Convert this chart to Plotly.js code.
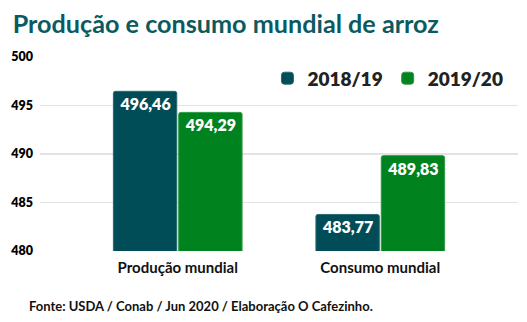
<!DOCTYPE html>
<html><head><meta charset="utf-8">
<script src="https://cdn.plot.ly/plotly-3.0.1.min.js"></script>
<style>body{margin:0;padding:0;background:#fff}#c{width:527px;height:322px}</style>
</head><body><div id="c"></div>
<script>
var categories = ['Produção mundial', 'Consumo mundial'];
var series2018 = [496.46, 483.77];
var series2019 = [494.29, 489.83];
var seriesNames = ['2018/19', '2019/20'];
var yTicks = [480, 485, 490, 495, 500];

var font = 'Lato, "Noto Sans", sans-serif';
var traces = [
  {type:'bar', x:categories, y:series2018, name:seriesNames[0],
   marker:{color:'#004d57', line:{color:'#2a6a72', width:1}, cornerradius:2},
   texttemplate:'%{y:.2f}', textposition:'inside', insidetextanchor:'end',
   textfont:{family:font, size:16, color:'#ffffff', weight:800}, hoverinfo:'none'},
  {type:'bar', x:categories, y:series2019, name:seriesNames[1],
   marker:{color:'#00821f', line:{color:'#2b9a45', width:1}, cornerradius:2},
   texttemplate:'%{y:.2f}', textposition:'inside', insidetextanchor:'end',
   textfont:{family:font, size:16, color:'#ffffff', weight:800}, hoverinfo:'none'}
];
var layout = {
  width:527, height:322,
  margin:{l:40, r:9, t:57, b:71},
  separators:', ',
  paper_bgcolor:'#fff', plot_bgcolor:'#fff',
  font:{family:font, color:'#222'},
  barmode:'group', bargap:0.355, bargroupgap:0.03,
  title:{text:'<b>Produção e consumo mundial de arroz</b>', x:0.024, xanchor:'left', y:0.925, yanchor:'middle',
         font:{family:font, size:25.2, color:'#0b5a61', weight:900}},
  xaxis:{type:'category', range:[-0.68, 1.68], showgrid:false, zeroline:false, showline:false,
         ticks:'', ticklabelstandoff:6, tickfont:{family:font, size:15, color:'#111', weight:700}, fixedrange:true},
  yaxis:{range:[480, 500], tickvals:yTicks, ticktext:yTicks.map(String), showgrid:true, gridcolor:'#e3e3e3', gridwidth:1.5,
         zeroline:false, showline:false, ticks:'', ticklabelstandoff:6,
         tickfont:{family:font, size:12.5, color:'#000', weight:800}},
  showlegend:true,
  legend:{orientation:'h', x:0.98, xanchor:'right', y:0.89, yanchor:'middle',
          font:{family:font, size:19, color:'#222', weight:800}, itemwidth:30, traceorder:'normal'},
  annotations:[{text:'<b>Fonte: USDA / Conab / Jun 2020 / Elaboração O Cafezinho.</b>', xref:'paper', yref:'paper',
    x:-0.027, xanchor:'left', y:-0.285, yanchor:'middle', showarrow:false,
    font:{family:font, size:13, color:'#111'}}]
};
Plotly.newPlot('c', traces, layout, {displayModeBar:false, staticPlot:true});
</script></body></html>
